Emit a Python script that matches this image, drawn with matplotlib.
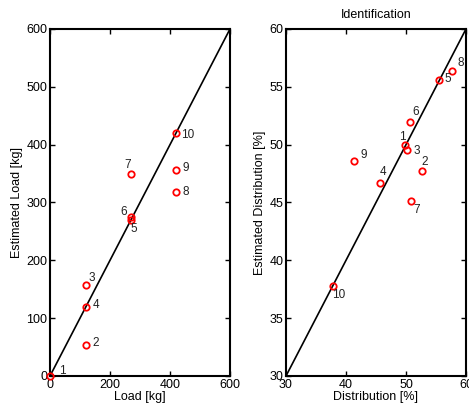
import matplotlib
matplotlib.use('Agg')
import matplotlib.pyplot as plt

plt.rcParams['font.family'] = ['Liberation Sans', 'DejaVu Sans']

# carga real x carga estimada
load = [0, 120, 120, 120, 270, 270, 270, 420, 420, 420]
load_est = [0, 54, 158, 120, 270, 275, 349, 318, 357, 420]

# distribuicao real x estimada
dist = [49.9, 52.6, 50.2, 45.7, 55.5, 50.6, 50.8, 57.7, 41.4, 37.8]
dist_est = [50.0, 47.7, 49.5, 46.7, 55.6, 52.0, 45.1, 56.4, 48.6, 37.8]

point_labels = ['1', '2', '3', '4', '5', '6', '7', '8', '9', '10']

# deslocamento dos rotulos (pixels)
offs_load = [(12, 5), (10, 2), (6, 7), (10, 2), (3, -9), (-7, 5), (-3, 9), (10, 0), (10, 2), (12, -2)]
offs_dist = [(-3, 8), (3, 9), (10, -1), (3, 11), (9, 1), (6, 10), (6, -9), (9, 8), (9, 6), (6, -9)]


def desenha(ax, x, y, lim, ticks, offs, xlabel, ylabel):
    ax.plot(lim, lim, color='black', lw=1.2, zorder=2)
    ax.plot(x, y, 'o', mfc='none', mec='red', ms=4.6, mew=1.3, zorder=3, clip_on=False)
    for xi, yi, t, o in zip(x, y, point_labels, offs):
        ax.annotate(t, (xi, yi), xytext=o, textcoords='offset pixels',
                    ha='center', va='center', fontsize=8.5, color='#222222')
    ax.set_xlim(lim)
    ax.set_ylim(lim)
    ax.set_xticks(ticks)
    ax.set_yticks(ticks)
    ax.tick_params(direction='in', length=3.5, width=1, top=True, right=True,
                   labelsize=9, pad=2, colors='black')
    for s in ax.spines.values():
        s.set_linewidth(1.5)
    ax.set_xlabel(xlabel, fontsize=9, labelpad=0)
    ax.set_ylabel(ylabel, fontsize=9, labelpad=2)


fig = plt.figure(figsize=(4.69, 4.07), dpi=100)
ax1 = fig.add_axes([0.1066, 0.0762, 0.3838, 0.8526])
ax2 = fig.add_axes([0.6098, 0.0762, 0.3838, 0.8526])

desenha(ax1, load, load_est, [0, 600], [0, 200, 400, 600], offs_load,
        'Load [kg]', 'Estimated Load [kg]')
ax1.set_yticks([0, 100, 200, 300, 400, 500, 600])

desenha(ax2, dist, dist_est, [30, 60], [30, 40, 50, 60], offs_dist,
        'Distribution [%]', 'Estimated Distribution [%]')
ax2.set_yticks([30, 35, 40, 45, 50, 55, 60])
ax2.set_title('Identification', fontsize=9, pad=8)

fig.savefig('out.png', dpi=100)
